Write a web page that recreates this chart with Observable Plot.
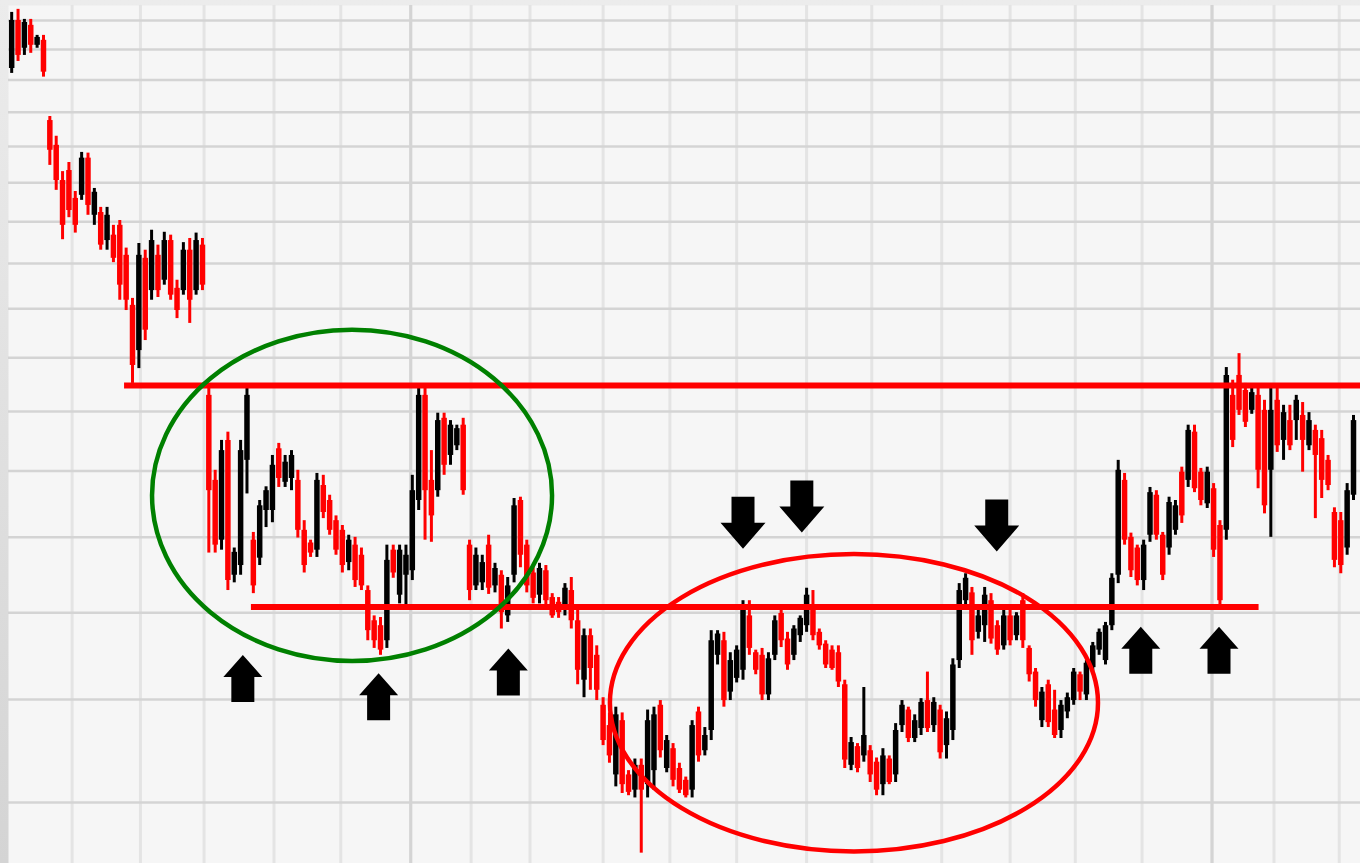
<!DOCTYPE html>
<html><head><meta charset="utf-8">
<script src="https://cdn.jsdelivr.net/npm/d3@7"></script>
<script src="https://cdn.jsdelivr.net/npm/@observablehq/plot@0.6"></script>
<style>html,body{margin:0;padding:0;overflow:hidden;background:#e4e4e4}#chart svg{display:block}</style>
</head><body><div id="chart"></div>
<script>
// OHLC prices, one candle per two trading days
const open = [
18.37,20.00,19.04,19.83,19.14,19.31,16.75,16.03,15.06,15.33,
14.59,14.67,15.67,14.16,14.23,13.54,13.67,13.91,13.19,12.07,
11.14,13.12,12.39,13.19,12.62,13.54,12.44,12.39,13.31,12.39,
13.43,10.29,8.85,7.96,9.50,7.48,7.61,9.17,7.96,7.71,
8.39,8.39,9.36,8.82,8.88,8.85,8.10,7.92,7.82,8.77,
8.54,8.24,8.10,7.65,7.89,7.75,7.28,6.90,6.84,6.66,
7.82,7.22,7.48,7.54,8.54,10.29,8.85,8.69,9.88,9.25,
9.41,9.76,7.89,7.34,7.38,7.89,7.34,7.48,6.96,7.48,
8.54,7.89,7.51,7.22,7.54,7.19,7.13,7.03,7.28,6.90,
6.21,6.72,6.49,5.94,5.73,5.25,5.78,5.25,5.11,5.34,
5.16,5.29,5.94,5.31,5.50,5.31,5.20,5.11,5.87,5.48,
5.68,6.49,6.66,6.08,6.23,6.32,6.96,6.52,6.49,6.05,
6.49,6.99,6.68,6.49,6.72,6.84,7.09,6.76,6.62,6.55,
6.52,6.16,5.34,5.52,5.43,5.48,5.37,5.16,5.40,5.25,
5.73,5.89,5.60,5.70,5.99,5.73,5.89,5.53,5.68,6.43,
7.15,7.25,6.76,6.84,7.15,6.84,6.60,6.96,6.72,7.15,
6.57,6.30,5.78,6.16,5.89,5.68,5.87,5.99,6.27,6.05,
6.35,6.55,6.43,6.84,7.48,8.85,8.00,7.85,7.41,8.03,
8.62,8.03,7.85,8.10,8.98,8.85,9.64,8.98,8.49,8.72,
8.17,8.10,10.29,10.66,10.38,10.02,10.29,10.02,9.01,10.20,
9.50,9.84,9.84,9.93,9.41,9.67,9.53,9.17,8.36,8.24,
7.85,8.62];
const high = [
20.29,20.40,20.04,20.04,19.48,19.48,16.87,16.29,15.30,15.55,
14.77,15.83,15.81,14.85,14.36,14.36,13.91,14.03,13.36,12.22,
13.47,13.31,13.79,13.43,13.74,13.67,12.62,13.49,13.59,13.72,
13.59,10.42,9.01,9.50,9.64,7.85,9.50,10.42,8.07,8.54,
8.75,9.25,9.45,9.25,9.33,9.01,8.24,7.96,8.96,8.93,
8.62,8.31,8.17,8.03,8.00,7.85,7.34,6.96,6.94,7.89,
7.89,7.89,7.89,8.93,10.42,10.42,9.33,9.97,9.97,9.84,
9.76,9.88,7.96,7.85,7.75,8.03,7.64,7.54,7.45,8.57,
8.59,7.96,7.58,7.64,7.61,7.24,7.19,7.37,7.45,7.03,
6.80,6.80,6.60,6.02,5.86,5.92,5.86,5.29,5.40,5.40,
5.89,5.92,5.99,5.63,5.55,5.36,5.23,5.78,5.92,5.71,
6.78,6.78,6.76,6.52,6.60,7.15,7.15,6.55,6.57,6.52,
6.96,7.03,6.76,6.84,6.96,7.31,7.28,6.80,6.66,6.60,
6.60,6.21,5.61,5.55,6.13,5.53,5.41,5.50,5.43,5.75,
5.99,5.92,5.84,6.01,6.30,6.02,5.94,5.87,6.45,7.37,
7.50,7.32,7.03,7.32,7.24,6.90,7.03,7.03,7.00,7.24,
6.60,6.34,6.13,6.21,6.10,5.99,6.07,6.34,6.30,6.43,
6.64,6.80,6.88,7.50,9.17,8.96,8.06,7.89,7.96,8.74,
8.69,8.07,8.59,8.54,9.06,9.76,9.76,9.04,9.06,8.80,
8.24,10.81,10.57,11.08,10.51,10.42,10.42,10.20,10.42,10.42,
10.11,10.11,10.29,10.16,9.98,9.76,9.67,9.25,8.43,8.36,
8.80,9.93];
const low = [
18.21,18.60,18.80,18.87,19.04,18.09,15.47,14.80,13.56,14.10,
13.72,14.54,14.16,13.91,13.31,13.31,13.02,12.18,11.96,10.51,
10.79,11.34,12.18,12.24,12.51,12.18,11.79,12.29,11.69,12.29,
12.39,7.78,7.78,7.82,7.28,7.38,7.48,8.64,7.24,7.61,
8.14,8.21,8.74,8.74,8.69,7.99,7.51,7.72,7.72,8.27,
8.03,7.75,7.51,7.54,7.32,7.28,6.66,6.57,6.49,6.57,
7.44,7.11,7.09,7.41,8.39,7.96,7.93,8.59,8.93,9.09,
9.33,8.62,7.15,7.28,7.28,7.23,7.25,6.80,6.88,7.38,
7.58,7.25,7.11,7.11,7.06,6.93,6.93,6.96,6.80,6.16,
6.02,6.10,5.99,5.53,5.36,5.14,5.08,5.06,5.04,4.57,
5.04,5.11,5.41,5.27,5.14,5.08,5.04,5.04,5.37,5.43,
5.58,6.38,5.92,5.99,6.18,6.21,6.49,6.27,5.99,5.99,
6.43,6.58,6.32,6.43,6.64,6.76,6.66,6.55,6.34,6.32,
6.13,5.31,5.29,5.27,5.37,5.18,5.06,5.06,5.16,5.18,
5.66,5.56,5.56,5.63,5.66,5.66,5.40,5.40,5.58,6.34,
7.03,6.49,6.68,6.64,6.62,6.49,6.55,6.60,6.66,6.57,
6.19,5.92,5.71,5.71,5.60,5.60,5.80,5.94,5.99,5.99,
6.30,6.49,6.38,6.78,7.37,7.89,7.45,7.34,7.28,7.93,
7.96,7.41,7.75,8.03,8.20,8.74,8.66,8.46,8.42,7.72,
7.09,7.96,9.38,9.93,9.72,9.95,8.72,8.34,8.00,9.30,
9.17,9.33,9.50,8.98,9.33,8.27,8.57,8.69,7.58,7.50,
7.75,8.54];
const close = [
20.00,18.80,19.93,19.14,19.41,18.25,15.89,15.06,13.91,14.28,
13.91,15.67,14.41,14.75,13.43,14.16,13.12,12.51,12.18,10.85,
13.19,11.55,13.54,12.39,13.54,12.29,11.96,13.31,12.18,13.54,
12.51,8.69,7.89,9.33,7.41,7.79,9.33,10.29,7.34,8.46,
8.69,9.09,8.88,9.14,9.25,8.10,7.61,7.78,8.85,8.36,
8.10,7.82,7.61,7.96,7.41,7.34,6.78,6.66,6.55,7.68,
7.51,7.82,7.75,8.69,10.29,8.69,8.31,9.84,9.09,9.76,
9.70,8.69,7.28,7.75,7.65,7.31,7.57,7.00,7.34,8.46,
7.75,7.34,7.18,7.57,7.15,6.96,7.00,7.31,6.90,6.32,
6.72,6.34,6.10,5.58,5.43,5.84,5.16,5.09,5.34,5.11,
5.78,5.84,5.48,5.58,5.20,5.11,5.06,5.73,5.43,5.63,
6.66,6.74,5.99,6.43,6.55,7.03,6.57,6.32,6.05,6.45,
6.90,6.66,6.38,6.80,6.93,7.22,6.72,6.60,6.38,6.34,
6.19,5.39,5.56,5.31,5.63,5.25,5.11,5.43,5.18,5.68,
5.94,5.60,5.78,5.97,5.70,5.97,5.46,5.80,6.38,7.28,
7.44,6.66,6.96,7.22,6.68,6.55,6.96,6.66,6.96,6.66,
6.27,5.99,6.08,5.76,5.63,5.94,6.02,6.30,6.08,6.40,
6.60,6.76,6.84,7.44,9.01,7.96,7.54,7.41,7.89,8.66,
8.03,7.48,8.51,8.46,8.31,9.67,8.72,8.54,8.98,7.82,
7.15,10.66,9.50,10.02,9.81,10.34,9.01,8.46,10.02,9.41,
9.98,9.41,10.20,9.50,9.84,9.25,8.85,8.77,7.68,7.61,
8.69,9.84];

// time axis in trading days
const tradingDay = open.map((_, i) => 2 * i + 1);
const lastDay = 425.2;
const monthStarts = [20,41.5,61.5,83.5,104.5,126.5,145.5,164,187,208,229,251,271.5,293.5,315,335.5,356.5,378.5,398,418.5];
const yearStarts = [126.5, 378.5];
const priceTicks = [5,6,7,8,9,10,11,12,13,14,15,16,17,18,19,20];
const priceDomain = [4.487, 20.54];

// support / resistance levels
const levelPrice = [10.47, 7.07];
const levelFrom = [36.5, 76.4];
const levelTo = [425.2, 393.3];

// ellipse annotations (bounding box in days / prices)
const ellipseLeft = [45.3, 189.3];
const ellipseRight = [171.1, 342.8];
const ellipseTop = [11.55, 7.76];
const ellipseBottom = [6.42, 4.58];

// arrow annotations (centre in days / prices)
const upArrowDay = [73.7, 116.4, 157.2, 356.1, 380.7];
const upArrowPrice = [6.23, 6.03, 6.30, 6.55, 6.55];
const downArrowDay = [231.0, 249.5, 310.8];
const downArrowPrice = [8.21, 8.45, 8.17];

const candles = open.map((o, i) => ({day: tradingDay[i], open: o, high: high[i], low: low[i], close: close[i]}));
const rising = candles.filter(d => d.close >= d.open);
const falling = candles.filter(d => d.close < d.open);
const levels = levelPrice.map((p, i) => ({price: p, from: levelFrom[i], to: levelTo[i]}));
const ups = upArrowDay.map((d, i) => ({day: d, price: upArrowPrice[i]}));
const downs = downArrowDay.map((d, i) => ({day: d, price: downArrowPrice[i]}));
const ellipseColors = ["#008000", "#ff0000"];

const upArrow = {draw(c) {
  c.moveTo(0, -23.5); c.lineTo(19.5, -1.5); c.lineTo(11.5, -1.5); c.lineTo(11.5, 23.5);
  c.lineTo(-11.5, 23.5); c.lineTo(-11.5, -1.5); c.lineTo(-19.5, -1.5); c.closePath();
}};
const downArrow = {draw(c) {
  c.moveTo(-11.5, -26); c.lineTo(11.5, -26); c.lineTo(11.5, 0); c.lineTo(22.5, 0);
  c.lineTo(0, 26); c.lineTo(-22.5, 0); c.lineTo(-11.5, 0); c.closePath();
}};

function ellipses(index, scales) {
  const ns = "http://www.w3.org/2000/svg";
  const g = document.createElementNS(ns, "g");
  for (let i = 0; i < ellipseLeft.length; i++) {
    const x1 = scales.x(ellipseLeft[i]), x2 = scales.x(ellipseRight[i]);
    const y1 = scales.y(ellipseTop[i]), y2 = scales.y(ellipseBottom[i]);
    const e = document.createElementNS(ns, "ellipse");
    e.setAttribute("cx", (x1 + x2) / 2);
    e.setAttribute("cy", (y1 + y2) / 2);
    e.setAttribute("rx", Math.abs(x2 - x1) / 2);
    e.setAttribute("ry", Math.abs(y2 - y1) / 2);
    e.setAttribute("fill", "none");
    e.setAttribute("stroke", ellipseColors[i]);
    e.setAttribute("stroke-width", 4.5);
    g.appendChild(e);
  }
  return g;
}

const chart = Plot.plot({
  width: 1360,
  height: 863,
  marginTop: 5, marginLeft: 8, marginRight: 0, marginBottom: 0,
  style: {background: "linear-gradient(#ececec, #d4d4d4)", overflow: "hidden"},
  x: {domain: [0, lastDay], axis: null},
  y: {type: "log", domain: priceDomain, axis: null},
  marks: [
    Plot.frame({fill: "#f6f6f6", stroke: "none"}),
    Plot.ruleX(monthStarts, {stroke: "#e4e4e4", strokeWidth: 3}),
    Plot.ruleX(yearStarts, {stroke: "#d4d4d4", strokeWidth: 3}),
    Plot.ruleY(priceTicks, {stroke: "#d4d4d4", strokeWidth: 2.5}),
    Plot.ruleX(rising, {x: "day", y1: "low", y2: "high", stroke: "#000000", strokeWidth: 3}),
    Plot.ruleX(rising, {x: "day", y1: "open", y2: "close", stroke: "#000000", strokeWidth: 5.5}),
    Plot.ruleX(falling, {x: "day", y1: "low", y2: "high", stroke: "#ff0000", strokeWidth: 3}),
    Plot.ruleX(falling, {x: "day", y1: "open", y2: "close", stroke: "#ff0000", strokeWidth: 5.5}),
    Plot.ruleY(levels, {y: "price", x1: "from", x2: "to", stroke: "#ff0000", strokeWidth: 6}),
    ellipses,
    Plot.dot(ups, {x: "day", y: "price", symbol: upArrow, fill: "#000000", stroke: "none", r: 10}),
    Plot.dot(downs, {x: "day", y: "price", symbol: downArrow, fill: "#000000", stroke: "none", r: 10})
  ]
});
document.getElementById("chart").appendChild(chart);
</script>
</body></html>
